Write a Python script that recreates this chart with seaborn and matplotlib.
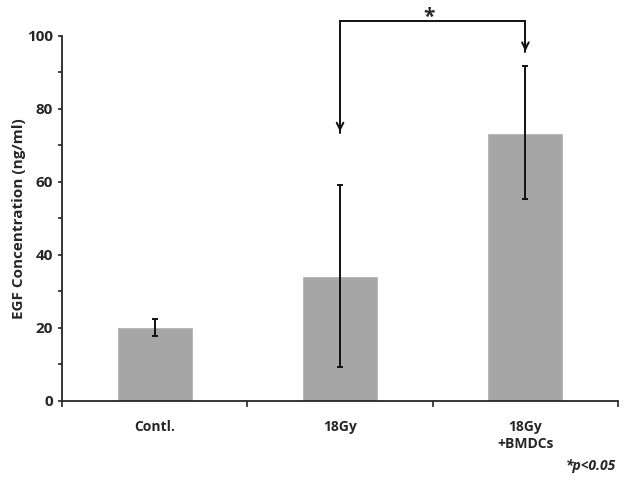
import numpy as np
import pandas as pd
import matplotlib.pyplot as plt
import seaborn as sns
from matplotlib.ticker import MultipleLocator

# values
groups = ["Contl.", "18Gy", "18Gy\n+BMDCs"]
egf_mean = [20.2, 34.2, 73.5]
egf_err = [2.3, 24.8, 18.3]

df = pd.DataFrame({"group": groups, "egf": egf_mean})

sns.set_style("ticks")
plt.rcParams["font.family"] = ["Open Sans", "DejaVu Sans"]

fig = plt.figure(figsize=(6.29, 4.8), dpi=100)
ax = fig.add_axes([0.0986, 0.1646, 0.884, 0.761])

sns.barplot(data=df, x="group", y="egf", color="#a6a6a6", width=0.41,
            saturation=1, errorbar=None, ax=ax)
ax.errorbar(np.arange(len(groups)), egf_mean, yerr=egf_err, fmt="none",
            ecolor="#111111", elinewidth=1.4, capsize=2.2, capthick=1.4)

ax.set_xlim(-0.5, 2.5)
ax.set_ylim(0, 100)
ax.yaxis.set_major_locator(MultipleLocator(20))
ax.yaxis.set_minor_locator(MultipleLocator(10))
ax.set_xticks(np.arange(len(groups)))
ax.set_xticks([-0.5, 0.5, 1.5, 2.5], minor=True)
ax.tick_params(axis="x", which="major", length=0, pad=14)
ax.tick_params(axis="x", which="minor", length=4, width=1.2, direction="out")
ax.tick_params(axis="y", which="both", length=3, width=1.2, direction="out", labelsize=11)
for lbl in ax.get_xticklabels():
    lbl.set_fontweight("bold")
    lbl.set_fontsize(10)
for lbl in ax.get_yticklabels():
    lbl.set_fontweight("bold")

ax.set_xlabel("")
ax.set_ylabel("EGF Concentration (ng/ml)", fontsize=11, fontweight="bold", labelpad=1)
sns.despine(ax=ax)
ax.spines["left"].set_linewidth(1.3)
ax.spines["bottom"].set_linewidth(1.3)

# significance bracket between 18Gy and 18Gy+BMDCs
ax.plot([1, 1, 2, 2], [73.5, 104, 104, 95.5], color="#111111", lw=1.4,
        clip_on=False, solid_joinstyle="miter")
for x0, ytip in [(1, 73.5), (2, 95.5)]:
    ax.annotate("", xy=(x0, ytip - 0.5), xytext=(x0, ytip + 3),
                arrowprops=dict(arrowstyle="->", color="#111111", lw=1.4,
                                mutation_scale=12),
                annotation_clip=False)
ax.text(1.48, 103.6, "*", ha="center", va="baseline", fontsize=15,
        fontweight="bold", clip_on=False)

fig.text(0.94, 0.03, "*p<0.05", ha="center", va="center", fontsize=10,
         fontweight="bold", style="italic")

fig.savefig("out.png", dpi=100, facecolor="white")
